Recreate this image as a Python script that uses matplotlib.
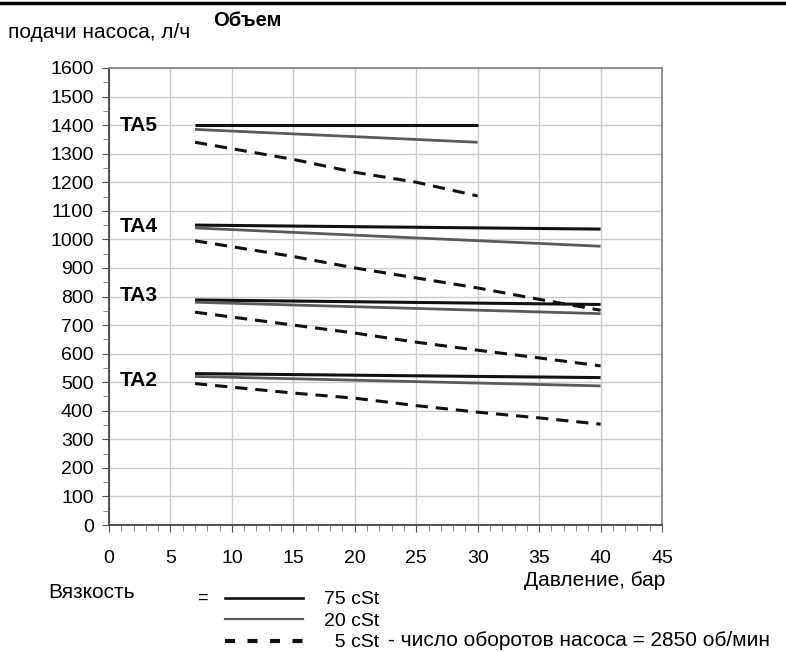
import matplotlib.pyplot as plt
from matplotlib.lines import Line2D
from matplotlib.ticker import MultipleLocator

plt.rcParams['font.family'] = ['Liberation Sans', 'DejaVu Sans']

# pressure points (bar)
p_ta5 = [7, 30]
p_ta5_5 = [7, 15, 20, 25, 30]
p_long = [7, 40]
p_dash = [7, 15, 20, 25, 30, 35, 40]

# TA5
ta5_75 = [1400, 1400]
ta5_20 = [1385, 1340]
ta5_5 = [1340, 1280, 1235, 1200, 1152]

# TA4
ta4_75 = [1050, 1036]
ta4_20 = [1040, 976]
ta4_5 = [995, 940, 900, 865, 830, 790, 752]

# TA3
ta3_75 = [788, 772]
ta3_20 = [780, 740]
ta3_5 = [745, 700, 672, 640, 612, 585, 557]

# TA2
ta2_75 = [530, 516]
ta2_20 = [520, 487]
ta2_5 = [495, 462, 444, 418, 395, 375, 353]

pump_labels = ['TA5', 'TA4', 'TA3', 'TA2']
pump_label_y = [1400, 1045, 805, 505]

viscosity_labels = ['75 cSt', '20 cSt', '  5 cSt']

black = '#111111'
gray = '#5a5a5a'
dash = (0, (4, 2.6))

fig = plt.figure(figsize=(7.86, 6.52), dpi=100)
ax = fig.add_axes([109 / 786, 1 - 525 / 652, 553 / 786, 457 / 652])

for p75, v75, p20, v20, p5, v5 in [
    (p_ta5, ta5_75, p_ta5, ta5_20, p_ta5_5, ta5_5),
    (p_long, ta4_75, p_long, ta4_20, p_dash, ta4_5),
    (p_long, ta3_75, p_long, ta3_20, p_dash, ta3_5),
    (p_long, ta2_75, p_long, ta2_20, p_dash, ta2_5),
]:
    ax.plot(p75, v75, color=black, lw=2.2, solid_capstyle='butt')
    ax.plot(p20, v20, color=gray, lw=2.0, solid_capstyle='butt')
    ax.plot(p5, v5, color=black, lw=2.2, linestyle=dash)

for lab, yv in zip(pump_labels, pump_label_y):
    ax.text(0.9, yv, lab, fontsize=15, fontweight='bold', va='center', ha='left')

ax.set_xlim(0, 45)
ax.set_ylim(0, 1600)
ax.xaxis.set_major_locator(MultipleLocator(5))
ax.xaxis.set_minor_locator(MultipleLocator(1))
ax.yaxis.set_major_locator(MultipleLocator(100))
ax.yaxis.set_minor_locator(MultipleLocator(50))
ax.grid(True, which='major', color='#cccccc', lw=1)
ax.set_axisbelow(True)
ax.tick_params(axis='both', which='major', length=5, color='#555555',
               labelsize=14, pad=6)
ax.tick_params(axis='both', which='minor', length=4, color='#777777')
ax.tick_params(axis='x', pad=13)
for s in ['left', 'bottom']:
    ax.spines[s].set_color('#444444')
    ax.spines[s].set_linewidth(1.3)
for s in ['top', 'right']:
    ax.spines[s].set_color('#888888')
    ax.spines[s].set_linewidth(1.3)

# header and footer texts
fig.add_artist(Line2D([0, 1], [1 - 3 / 652, 1 - 3 / 652], color='black', lw=2.5))
fig.text(8 / 786, 1 - 32 / 652, 'подачи насоса, л/ч', fontsize=15, va='center')
fig.text(213 / 786, 1 - 20 / 652, 'Объем', fontsize=14.5, fontweight='bold', va='center')
fig.text(665 / 786, 1 - 581 / 652, 'Давление, бар', fontsize=15, va='center', ha='right')
fig.text(48 / 786, 1 - 593 / 652, 'Вязкость', fontsize=15, va='center')
fig.text(197 / 786, 1 - 598 / 652, '=', fontsize=13, va='center')

handles = [
    Line2D([], [], color=black, lw=1.9),
    Line2D([], [], color=gray, lw=1.6),
    Line2D([], [], color=black, lw=3.0, linestyle=(0, (2.4, 3.0))),
]
fig.legend(handles, viscosity_labels, loc='center left',
           bbox_to_anchor=(225 / 786, 1 - 621 / 652), frameon=False,
           fontsize=14, handlelength=4.0, handletextpad=1.1,
           labelspacing=0.2, borderpad=0, borderaxespad=0)
fig.text(388 / 786, 1 - 640 / 652, '- число оборотов насоса = 2850 об/мин',
         fontsize=15, va='center')

fig.savefig('out.png', dpi=100)
